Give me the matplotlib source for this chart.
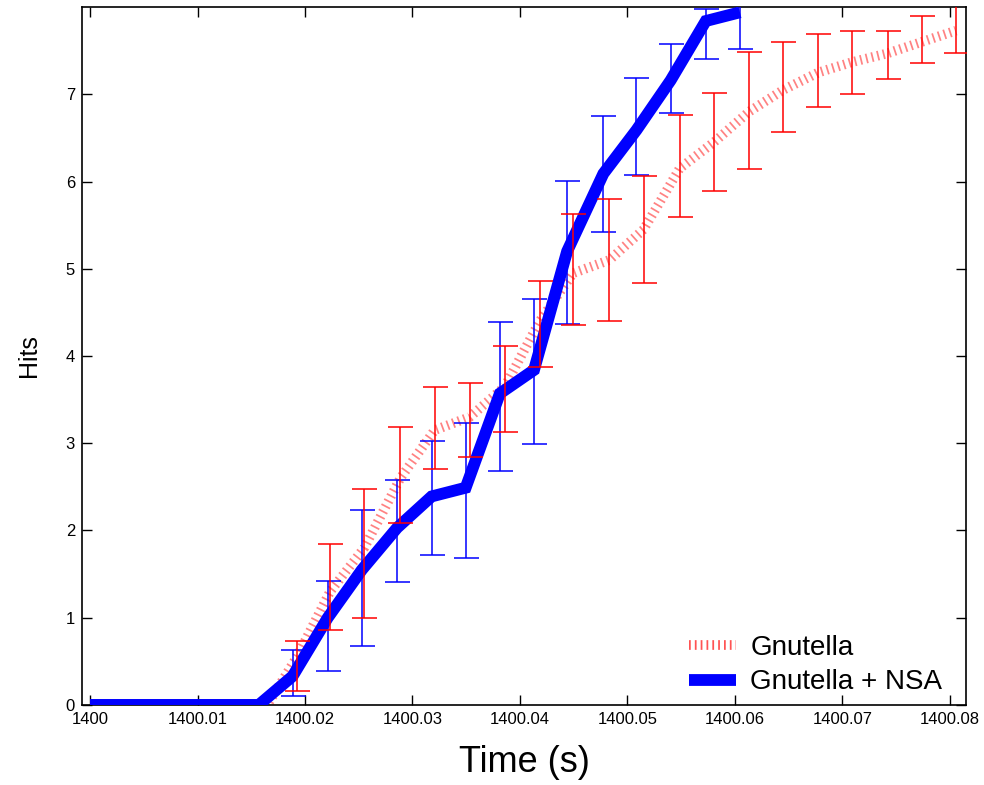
import numpy as np
import matplotlib
matplotlib.use("Agg")
import matplotlib.pyplot as plt

plt.rcParams['font.family'] = ['Liberation Sans', 'DejaVu Sans']

# Gnutella (red, dotted) - offsets from 1400 s
red_t = [0.0, 0.0165, 0.01925, 0.02234, 0.02551, 0.02888, 0.03206, 0.03533, 0.03860, 0.04184,
         0.04495, 0.04832, 0.05150, 0.05486, 0.05804, 0.06131, 0.06449, 0.06776,
         0.07093, 0.07421, 0.07738, 0.08056]
red_y = [0, 0, 0.55, 1.3, 1.8, 2.6, 3.15, 3.3, 3.65, 4.4, 4.95, 5.1, 5.45, 6.15, 6.45,
         6.8, 7.05, 7.25, 7.37, 7.47, 7.6, 7.73]
red_lo = [0, 0, 0.16, 0.86, 1.0, 2.08, 2.70, 2.84, 3.13, 3.87, 4.36, 4.40, 4.84, 5.59, 5.89,
          6.14, 6.57, 6.85, 7.0, 7.17, 7.36, 7.47]
red_hi = [0, 0, 0.73, 1.85, 2.47, 3.19, 3.65, 3.69, 4.12, 4.86, 5.63, 5.80, 6.06, 6.76, 7.02,
          7.48, 7.60, 7.69, 7.73, 7.73, 7.90, 8.05]

# Gnutella + NSA (blue, solid)
blue_t = [0.0, 0.0157, 0.01885, 0.02212, 0.02530, 0.02857, 0.03178, 0.03495, 0.03813,
          0.04131, 0.04439, 0.04776, 0.05084, 0.05402, 0.05729, 0.06047]
blue_y = [0, 0, 0.33, 1.0, 1.55, 2.03, 2.39, 2.49, 3.57, 3.84, 5.2, 6.09, 6.59, 7.16, 7.84, 7.94]
blue_lo = [0, 0, 0.10, 0.39, 0.68, 1.41, 1.72, 1.68, 2.68, 2.99, 4.37, 5.42, 6.08, 6.78, 7.41, 7.52]
blue_hi = [0, 0, 0.63, 1.42, 2.23, 2.58, 3.02, 3.23, 4.39, 4.65, 6.01, 6.75, 7.19, 7.58, 7.98, 8.02]

xticks = [1400 + i * 0.01 for i in range(9)]
xtick_labels = ['1400', '1400.01', '1400.02', '1400.03', '1400.04',
                '1400.05', '1400.06', '1400.07', '1400.08']

rt = 1400 + np.array(red_t)
bt = 1400 + np.array(blue_t)
ry, rlo, rhi = np.array(red_y), np.array(red_lo), np.array(red_hi)
by, blo, bhi = np.array(blue_y), np.array(blue_lo), np.array(blue_hi)

fig = plt.figure(figsize=(9.84, 7.85), dpi=100)
ax = fig.add_axes([0.0833, 0.102, 0.8984, 0.889])

ax.plot(rt, ry, color='#ff4040', alpha=0.65, lw=7, linestyle=(0, (0.18, 0.42)),
        label='Gnutella', zorder=2)
ax.plot(bt, by, color='#0000ff', lw=8.5, solid_joinstyle='miter', solid_capstyle='butt',
        label='Gnutella + NSA', zorder=3)

# error bars (skip the flat zero part)
ax.errorbar(bt[2:], by[2:], yerr=[by[2:] - blo[2:], bhi[2:] - by[2:]], fmt='none',
            ecolor='#0000ff', elinewidth=1.1, capsize=9, capthick=1.1, zorder=4)
ax.errorbar(rt[2:], ry[2:], yerr=[ry[2:] - rlo[2:], rhi[2:] - ry[2:]], fmt='none',
            ecolor='#ff0000', elinewidth=1.1, capsize=9, capthick=1.1, zorder=5)

ax.set_xlim(1399.99925, 1400.0815)
ax.set_ylim(0, 8)
ax.set_xticks(xticks)
ax.set_xticklabels(xtick_labels)
ax.set_yticks(range(8))
ax.tick_params(direction='in', top=True, right=True, length=7, width=1, labelsize=12, pad=5)
for s in ax.spines.values():
    s.set_linewidth(1.2)

ax.set_xlabel('Time (s)', fontsize=26, labelpad=13)
ax.set_ylabel('Hits', fontsize=18, labelpad=18)

leg = ax.legend(loc='lower right', frameon=False, fontsize=20, handlelength=1.7,
                handletextpad=0.5, labelspacing=0.3, borderaxespad=0.3,
                bbox_to_anchor=(0.995, -0.014))
leg.get_lines()[0].set_alpha(0.9)

fig.savefig('out.png', dpi=100)
